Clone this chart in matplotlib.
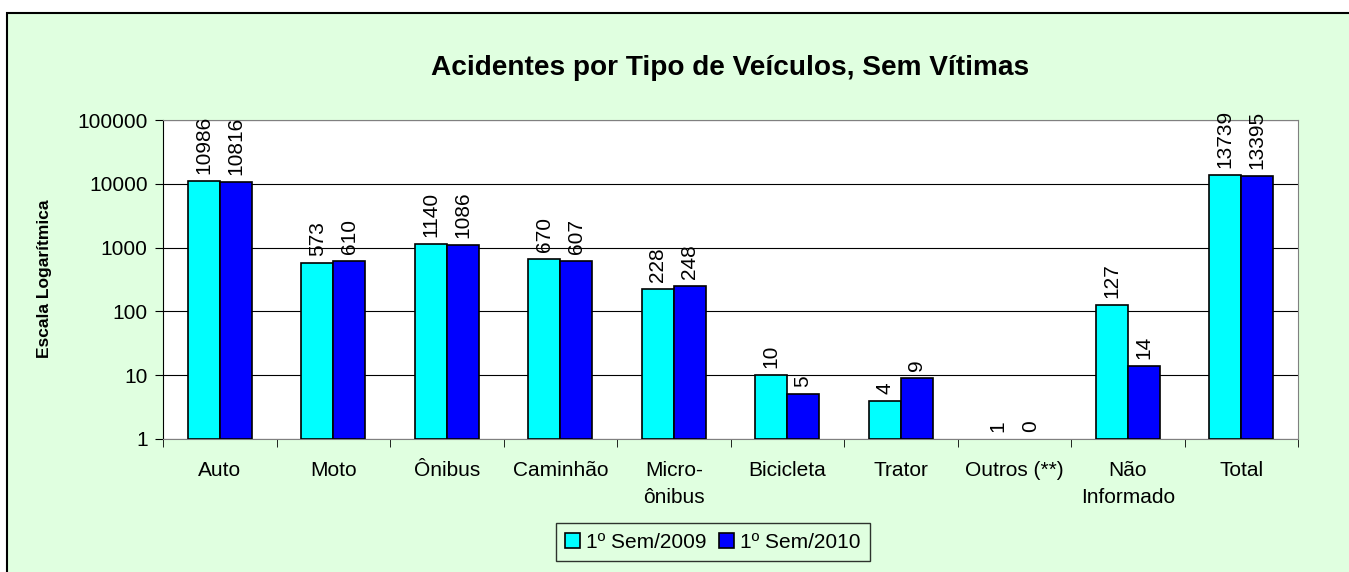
import numpy as np
import matplotlib.pyplot as plt
from matplotlib.patches import Rectangle

plt.rcParams['font.family'] = ['Liberation Sans', 'DejaVu Sans']

categorias = ['Auto', 'Moto', 'Ônibus', 'Caminhão', 'Micro-\nônibus', 'Bicicleta',
              'Trator', 'Outros (**)', 'Não\nInformado', 'Total']
sem2009 = [10986, 573, 1140, 670, 228, 10, 4, 1, 127, 13739]
sem2010 = [10816, 610, 1086, 607, 248, 5, 9, 0, 14, 13395]

fig = plt.figure(figsize=(13.49, 5.72), dpi=100)
fig.patch.set_facecolor('white')
# fundo verde com borda (cortada a direita e embaixo)
fig.patches.append(Rectangle((7/1349, -0.1), 1.1, 1.1 - 13/572, transform=fig.transFigure,
                             facecolor='#E0FFE0', edgecolor='black', linewidth=1.5, zorder=-10))

ax = fig.add_axes([163/1349, 1 - 439/572, (1298 - 163)/1349, (439 - 120)/572])
ax.set_facecolor('white')

x = np.arange(len(categorias))
w = 0.28
v1 = [max(v, 1) for v in sem2009]
v2 = [max(v, 1) for v in sem2010]
b1 = ax.bar(x - w/2, np.array(v1) - 1, w, bottom=1, color='#00FFFF', edgecolor='black',
            linewidth=1.2, label='1º Sem/2009', zorder=3)
b2 = ax.bar(x + w/2, np.array(v2) - 1, w, bottom=1, color='#0000FF', edgecolor='black',
            linewidth=1.2, label='1º Sem/2010', zorder=3)
# barras de altura zero (log) nao aparecem
for barras in (b1, b2):
    for p in barras.patches:
        if p.get_height() <= 0:
            p.set_linewidth(0)

ax.set_yscale('log')
ax.set_ylim(1, 100000)
ax.set_xlim(-0.5, len(categorias) - 0.5)
ax.set_yticks([1, 10, 100, 1000, 10000, 100000])
ax.set_yticklabels(['1', '10', '100', '1000', '10000', '100000'], fontsize=15)
ax.minorticks_off()
ax.yaxis.grid(True, color='black', linewidth=0.8, zorder=0)
ax.set_axisbelow(True)

ax.set_xticks(x)
ax.set_xticklabels(categorias, fontsize=15, linespacing=1.5)
ax.tick_params(axis='x', length=0, pad=16)
ax.set_xticks(np.arange(len(categorias) + 1) - 0.5, minor=True)
ax.tick_params(axis='x', which='minor', length=6, direction='out', color='black')
ax.tick_params(axis='y', length=6, direction='out', color='black', pad=5)

for s in ['top', 'right', 'bottom']:
    ax.spines[s].set_color('#808080')
ax.spines['left'].set_color('black')

for xi, a, b in zip(x, sem2009, sem2010):
    ax.annotate(str(a), (xi - w/2, max(a, 1)), xytext=(0, 5), textcoords='offset points',
                rotation=90, ha='center', va='bottom', fontsize=15)
    ax.annotate(str(b), (xi + w/2, max(b, 1)), xytext=(0, 5), textcoords='offset points',
                rotation=90, ha='center', va='bottom', fontsize=15)

fig.text(45/1349, 1 - 279/572, 'Escala Logarítmica', rotation=90, ha='center', va='center',
         fontsize=12.5, fontweight='bold')
fig.text(730/1349, 1 - 68/572, 'Acidentes por Tipo de Veículos, Sem Vítimas',
         ha='center', va='center', fontsize=20.2, fontweight='bold')

leg = fig.legend(handles=[b1, b2], loc='center', bbox_to_anchor=(713/1349, 1 - 542/572),
                 ncol=2, fontsize=15, frameon=True, fancybox=False, handlelength=0.7,
                 handleheight=0.7, handletextpad=0.3, columnspacing=0.6, borderpad=0.45)
leg.get_frame().set_edgecolor('black')
leg.get_frame().set_facecolor('#E0FFE0')
leg.get_frame().set_linewidth(1)

fig.savefig('out.png', dpi=100)
